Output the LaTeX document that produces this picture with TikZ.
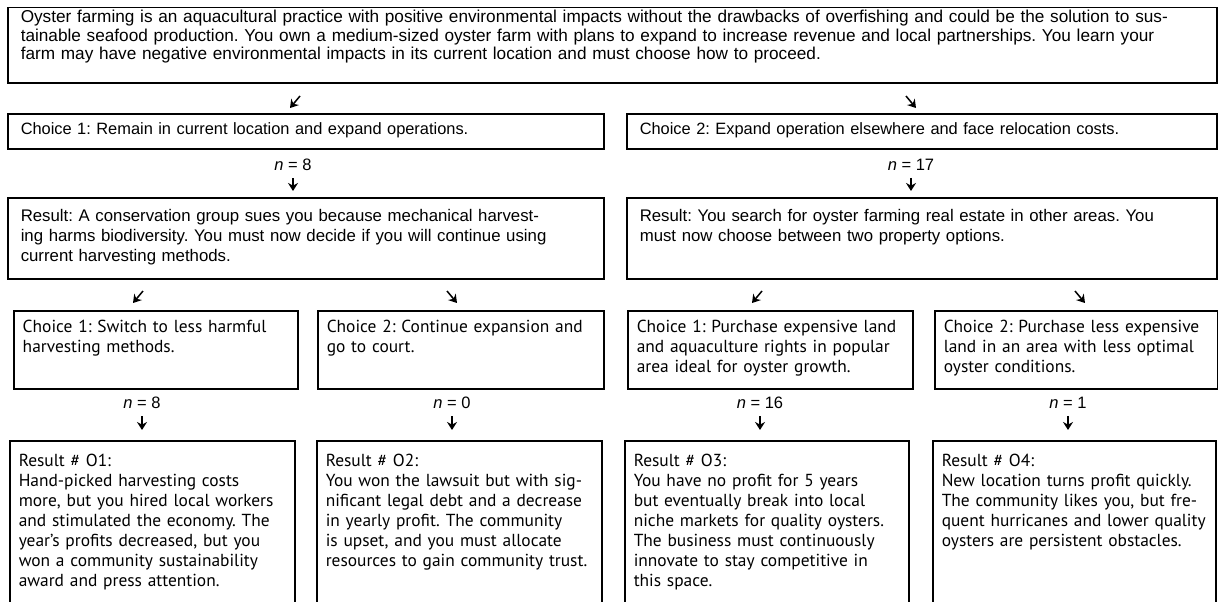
\documentclass[tikz,border=0pt]{standalone}
\usepackage{fontspec}
\setmainfont{Liberation Sans}
\newfontfamily\myriad{PT Sans}
\usetikzlibrary{arrows.meta,positioning}
\frenchspacing

\begin{document}
\begin{tikzpicture}[x=1pt,y=-1pt,
    bx/.style={draw,line width=1.5pt,anchor=north west,align=left,inner xsep=13pt,inner ysep=0pt,font=\fontsize{16.8}{20}\selectfont},
    sm/.style={bx,inner xsep=9pt,font=\myriad\fontsize{17.4}{20}\selectfont},
    a/.style={-{Stealth[length=8pt,width=10pt]},line width=1.5pt},
    k/.style={inner sep=0pt,font=\fontsize{16.5}{18}\selectfont}]
  \useasboundingbox (0,0) rectangle (1218,602);
  \clip (0,0) rectangle (1218,602);
  % top scenario
  \node[bx,text width=1183pt,text height=15pt,text depth=60pt,font=\fontsize{17.2}{18.5}\selectfont] (top) at (7,7) {Oyster farming is an aquacultural practice with positive environmental impacts without the drawbacks of overfishing and could be the solution to sus-\\tainable seafood production. You own a medium-sized oyster farm with plans to expand to increase revenue and local partnerships. You learn your\\farm may have negative environmental impacts in its current location and must choose how to proceed.};
  % first choices
  \node[bx,text width=570pt,text height=21pt,text depth=14pt,font=\fontsize{16.4}{20}\selectfont] (c1) at (7,113) {Choice 1: Remain in current location and expand operations.};
  \node[bx,text width=564pt,text height=21pt,text depth=14pt,font=\fontsize{16.4}{20}\selectfont] (c2) at (626,113) {Choice 2: Expand operation elsewhere and face relocation costs.};
  \node[k] (n1) at (293,165) {\textit{n} = 8};
  \node[k] (n2) at (911,165) {\textit{n} = 17};
  % first results
  \node[bx,text width=570pt,text height=24pt,text depth=57pt] (r1) at (7,197) {Result: A conservation group sues you because mechanical harvest-\\ing harms biodiversity. You must now decide if you will continue using\\current harvesting methods.};
  \node[bx,text width=564pt,text height=24pt,text depth=57pt] (r2) at (626,197) {Result: You search for oyster farming real estate in other areas. You\\must now choose between two property options.};
  % second choices
  \node[sm,text width=266pt,text height=22pt,text depth=56pt] (d1) at (13,310) {Choice 1: Switch to less harmful\\harvesting methods.};
  \node[sm,text width=268pt,text height=22pt,text depth=56pt] (d2) at (317,310) {Choice 2: Continue expansion and\\go to court.};
  \node[sm,text width=267pt,text height=22pt,text depth=56pt] (d3) at (627,310) {Choice 1: Purchase expensive land\\and aquaculture rights in popular\\area ideal for oyster growth.};
  \node[sm,text width=265pt,text height=22pt,text depth=56pt] (d4) at (934,310) {Choice 2: Purchase less expensive\\land in an area with less optimal\\oyster conditions.};
  \node[k] (n3) at (142,403) {\textit{n} = 8};
  \node[k] (n4) at (452,403) {\textit{n} = 0};
  \node[k] (n5) at (760,403) {\textit{n} = 16};
  \node[k] (n6) at (1068,403) {\textit{n} = 1};
  % outcomes
  \node[sm,text width=267pt,text height=26pt,text depth=170pt] (o1) at (9,440) {Result \# O1:\\Hand-picked harvesting costs\\more, but you hired local workers\\and stimulated the economy. The\\year’s profits decreased, but you\\won a community sustainability\\award and press attention.};
  \node[sm,text width=267pt,text height=26pt,text depth=170pt] (o2) at (316,440) {Result \# O2:\\You won the lawsuit but with sig-\\nificant legal debt and a decrease\\in yearly profit. The community\\is upset, and you must allocate\\resources to gain community trust.};
  \node[sm,text width=266pt,text height=26pt,text depth=170pt] (o3) at (624,440) {Result \# O3:\\You have no profit for 5 years\\but eventually break into local\\niche markets for quality oysters.\\The business must continuously\\innovate to stay competitive in\\this space.};
  \node[sm,text width=265pt,text height=26pt,text depth=170pt] (o4) at (932,440) {Result \# O4:\\New location turns profit quickly.\\The community likes you, but fre-\\quent hurricanes and lower quality\\oysters are persistent obstacles.};
  % slanted arrows
  \coordinate (s1) at (300,96);
  \coordinate (s2) at (906,96);
  \coordinate (s3) at (143,291);
  \coordinate (s4) at (447,291);
  \coordinate (s5) at (762,291);
  \coordinate (s6) at (1075,291);
  \draw[a] (s1) -- ++(-10,12);
  \draw[a] (s2) -- ++(10,12);
  \draw[a] (s3) -- ++(-10,12);
  \draw[a] (s4) -- ++(10,12);
  \draw[a] (s5) -- ++(-10,12);
  \draw[a] (s6) -- ++(10,12);
  % down arrows
  \draw[a,shorten <=7pt,shorten >=6pt] (n1.south) -- (n1.south |- r1.north);
  \draw[a,shorten <=7pt,shorten >=6pt] (n2.south) -- (n2.south |- r2.north);
  \draw[a,shorten <=7pt,shorten >=10pt] (n3.south) -- (n3.south |- o1.north);
  \draw[a,shorten <=7pt,shorten >=10pt] (n4.south) -- (n4.south |- o2.north);
  \draw[a,shorten <=7pt,shorten >=10pt] (n5.south) -- (n5.south |- o3.north);
  \draw[a,shorten <=7pt,shorten >=10pt] (n6.south) -- (n6.south |- o4.north);
\end{tikzpicture}
\end{document}
